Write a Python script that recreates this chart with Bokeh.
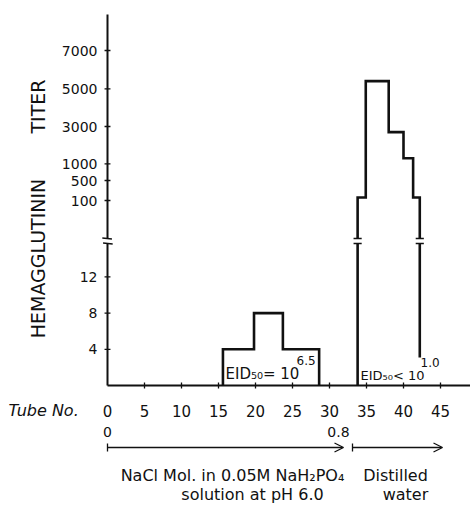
import numpy as np
from bokeh.plotting import figure
from bokeh.models import Label, Arrow, OpenHead, TeeHead, Range1d, ColumnDataSource
from bokeh.embed import file_html
from bokeh.resources import INLINE

# ---------------- data ----------------
tube_ticks = [0, 5, 10, 15, 20, 25, 30, 35, 40, 45]
titer_ticks_low = [4, 8, 12]
titer_ticks_high = [100, 500, 1000, 3000, 5000, 7000]

# NaCl gradient fractions (tube edges and titer per step)
saline_edges = [15.6, 19.8, 23.7, 28.6]
saline_titer = [4, 8, 4]

# distilled-water fractions
water_edges = [33.8, 34.9, 38.0, 40.0, 41.3, 42.2]
water_titer = [160, 5400, 2700, 1300, 160]
water_tail_titer = 3.1

# ---------------- broken titer scale ----------------
LOW_PX = 9.05                                   # drawing units per titer unit below the break
HIGH_POS = [185, 205, 221.7, 259, 296.7, 335]   # drawing positions of the upper ticks
BREAK_LO, BREAK_HI = 142, 147


def ypos(v):
    v = np.asarray(v, dtype=float)
    return np.round(np.where(v <= 16, v * LOW_PX, np.interp(v, titer_ticks_high, HIGH_POS)), 2)


FONT = "DejaVu Sans"
INK = "#111111"
W, H = 470, 509
UX = 7.4          # px per tube
X0_PX, Y0_PX = 107, 385   # where tube 0 / titer 0 sit


def X(px):
    return (px - X0_PX) / UX


def Y(py):
    return Y0_PX - py


p = figure(width=W, height=H, x_range=Range1d(X(0), X(W)), y_range=Range1d(Y(H), Y(0)),
           output_backend="svg", toolbar_location=None,
           x_axis_location=None, y_axis_location=None,
           min_border=0, min_border_left=0, min_border_right=0, min_border_top=0, min_border_bottom=0)
p.outline_line_color = None
p.grid.visible = False
p.background_fill_color = "white"
p.border_fill_color = "white"

y_tick_pos = [float(t) for t in ypos(titer_ticks_low + titer_ticks_high)]
y_tick_lab = [str(t) for t in titer_ticks_low + titer_ticks_high]

# hand-drawn axes with a break in the titer axis
p.segment(x0=[0, 0], y0=[0, BREAK_HI], x1=[0, 0], y1=[BREAK_LO, Y(14)], line_width=2, line_color=INK)
p.segment(x0=[-0.7, -0.6], y0=[BREAK_HI + 0.5, BREAK_LO + 0.5], x1=[0.6, 0.7], y1=[BREAK_HI - 0.5, BREAK_LO - 0.5],
          line_width=1.5, line_color=INK)
p.segment(x0=[-0.4] * len(y_tick_pos), y0=y_tick_pos, x1=[0.4] * len(y_tick_pos), y1=y_tick_pos,
          line_width=1.3, line_color=INK)
p.segment(x0=[0], y0=[0], x1=[X(W)], y1=[0], line_width=2, line_color=INK)
p.segment(x0=tube_ticks[1:], y0=[-3] * 9, x1=tube_ticks[1:], y1=[3] * 9, line_width=1.3, line_color=INK)

# tick labels through the scales
ysrc = ColumnDataSource(dict(x=[X(97)] * len(y_tick_pos), y=y_tick_pos, t=y_tick_lab))
p.text(x="x", y="y", text="t", source=ysrc, text_align="right", text_baseline="middle",
       text_font_size="14px", text_color=INK, text_font={"value": FONT})
xsrc = ColumnDataSource(dict(x=tube_ticks, y=[Y(410)] * len(tube_ticks), t=[str(t) for t in tube_ticks]))
p.text(x="x", y="y", text="t", source=xsrc, text_align="center", text_baseline="middle",
       text_font_size="15px", text_color=INK, text_font={"value": FONT})


def step_path(edges, vals):
    xs, ys = [], []
    for i, v in enumerate(vals):
        xs += [edges[i], edges[i + 1]]
        ys += [v, v]
    return xs, ys


# NaCl group
sx, sy = step_path(saline_edges, saline_titer)
p.line([saline_edges[0]] + sx + [saline_edges[-1]],
       [0] + list(ypos(sy)) + [0], line_width=2.6, line_color=INK, line_join="miter")

# distilled water group (crosses the break)
wx, wy = step_path(water_edges, water_titer)
p.line([water_edges[0]] + wx + [water_edges[-1]],
       [BREAK_HI] + list(ypos(wy)) + [BREAK_HI], line_width=2.6, line_color=INK, line_join="miter")
p.segment(x0=[water_edges[0], water_edges[-1]], y0=[0, BREAK_LO],
          x1=[water_edges[0], water_edges[-1]], y1=[BREAK_LO, float(ypos(water_tail_titer))],
          line_width=2.6, line_color=INK)
caps_x = [water_edges[0], water_edges[0], water_edges[-1], water_edges[-1]]
caps_y = [BREAK_LO, BREAK_HI, BREAK_LO, BREAK_HI]
p.segment(x0=[c - 0.55 for c in caps_x], y0=caps_y, x1=[c + 0.55 for c in caps_x], y1=caps_y,
          line_width=1.6, line_color=INK)


def lab(text, x, y, size="14px", align="left", baseline="middle", angle=0, style="normal"):
    p.add_layout(Label(x=x, y=y, text=text, text_font=FONT, text_font_size=size, text_color=INK,
                       text_align=align, text_baseline=baseline, angle=angle, text_font_style=style))


# EID50 annotations
lab("EID₅₀= 10", X(225), Y(373), "15px")
lab("6.5", X(296), Y(360), "12px")
lab("EID₅₀< 10", X(360), Y(375), "13px")
lab("1.0", X(420), Y(362), "12px")

# axis title (rotated)
lab("HEMAGGLUTININ", X(37), Y(258), "19px", align="center", angle=np.pi / 2)
lab("TITER", X(37), Y(106), "19px", align="center", angle=np.pi / 2)

# below the axis
lab("Tube No.", X(8), Y(410), "16px", style="italic")
lab("0", 0, Y(431), "14px", align="center")
lab("0.8", X(338), Y(431), "14px", align="center")
for a, b in [(X(107), X(343)), (X(352), X(442))]:
    p.add_layout(Arrow(start=TeeHead(size=8, line_width=1.3, line_color=INK),
                       end=OpenHead(size=9, line_width=1.3, line_color=INK),
                       x_start=a, y_start=Y(447), x_end=b, y_end=Y(447), line_width=1.3, line_color=INK))
lab("NaCl Mol. in 0.05M NaH₂PO₄", X(232), Y(475), "16px", align="center")
lab("Distilled", X(395), Y(475), "16px", align="center")
lab("solution at pH 6.0", X(252), Y(494), "16px", align="center")
lab("water", X(405), Y(494), "16px", align="center")

open("out.html", "w").write(file_html(p, INLINE))
